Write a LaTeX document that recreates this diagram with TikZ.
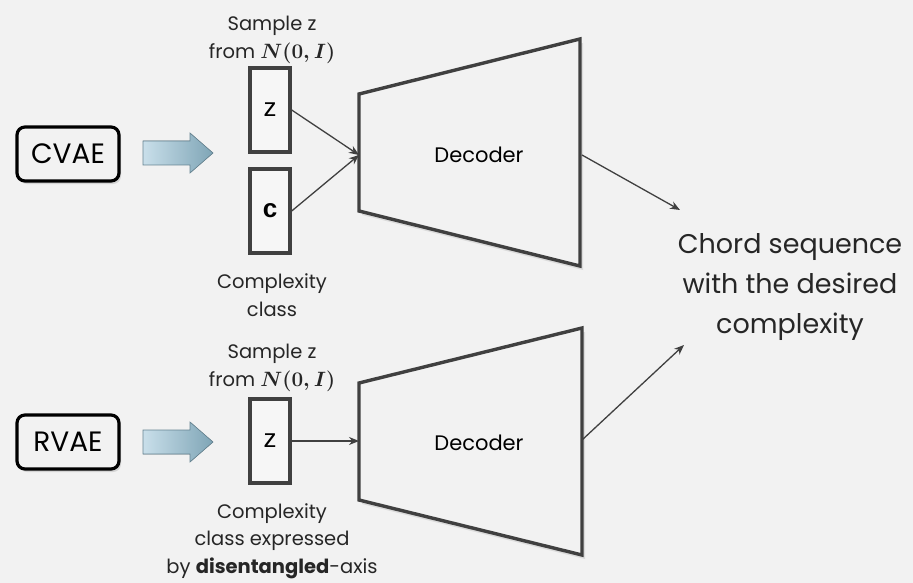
\documentclass[tikz,border=0pt]{standalone}
\usepackage{amsmath}
\usepackage{fontspec}
\setmainfont{Poppins}
\newfontfamily\arialfont{Liberation Sans}
\usetikzlibrary{arrows.meta,shadows}
\definecolor{bg}{HTML}{F2F2F2}
\definecolor{edge}{HTML}{404040}
\definecolor{blueA}{HTML}{C9DFEA}
\definecolor{blueB}{HTML}{7FA5B6}
\tikzset{
  x=1pt,y=-1pt,
  vaebox/.style={draw=black,line width=3.2pt,rounded corners=8pt,fill=bg,minimum width=102pt,minimum height=54pt,font=\fontsize{28}{30}\selectfont,drop shadow={shadow xshift=2pt,shadow yshift=-3pt,opacity=0.25}},
  latent/.style={draw=edge,line width=3.4pt,fill=bg!70!white,minimum width=40pt,minimum height=84pt,font=\arialfont\fontsize{26}{28}\selectfont,drop shadow={shadow xshift=2pt,shadow yshift=-2pt,opacity=0.2}},
  decoder/.style={draw=edge,line width=3.4pt,fill=bg,line join=miter},
  conn/.style={draw=edge,line width=1.3pt,-{Stealth[length=10pt,width=8pt]}},
  lbl/.style={font=\fontsize{19.5}{27.5}\selectfont,align=center,text=black!85},
  blockarrow/.style={draw=blueB!80!black,line width=0.6pt,left color=blueA,right color=blueB}
}
\begin{document}
\begin{tikzpicture}
\fill[bg] (0,0) rectangle (913,583);
\useasboundingbox (0,0) rectangle (913,583);

% ---------- top (CVAE) ----------
\node[vaebox] (cvae) at (68,154) {CVAE};
\filldraw[blockarrow] (143,141) -- (190,141) -- (190,133) -- (213,153) -- (190,173) -- (190,165) -- (143,165) -- cycle;
\node[lbl] (sampleA) at (272,40) {Sample z\\from $\boldsymbol{N(0,I)}$};
\node[latent] (zA) at (270,110) {z};
\node[latent] (cA) at (270,211) {\bfseries c};
\node[lbl] (complA) at (272,295) {Complexity\\class};
\filldraw[decoder,drop shadow={shadow xshift=3pt,shadow yshift=-4pt,opacity=0.2}] (359,94) -- (580,39) -- (580,266) -- (359,211) -- cycle;
\coordinate (decAin) at (359,155);
\coordinate (decAout) at (582,155);
\node[font=\fontsize{21}{24}\selectfont] (decA) at (479,155) {Decoder};
\draw[conn] (zA.east) -- (decAin);
\draw[conn] (cA.east) -- (decAin);

% ---------- output ----------
\node[font=\fontsize{27}{40}\selectfont,align=center,text=black!85] (out) at (790,287) {Chord sequence\\with the desired\\complexity};
\coordinate (outA) at (680,210);
\coordinate (outB) at (684,345);
\draw[conn] (decAout) -- (outA);

% ---------- bottom (RVAE) ----------
\node[vaebox] (rvae) at (68,442) {RVAE};
\filldraw[blockarrow] (143,430) -- (190,430) -- (190,422) -- (213,442) -- (190,462) -- (190,454) -- (143,454) -- cycle;
\node[lbl] (sampleB) at (272,368) {Sample z\\from $\boldsymbol{N(0,I)}$};
\node[latent] (zB) at (270,441) {z};
\node[lbl] (complB) at (272,541) {Complexity\\class expressed\\by \textbf{disentangled}-axis};
\filldraw[decoder,drop shadow={shadow xshift=3pt,shadow yshift=-4pt,opacity=0.2}] (359,383) -- (582,328) -- (582,555) -- (359,500) -- cycle;
\coordinate (decBin) at (359,441);
\coordinate (decBout) at (582,440);
\node[font=\fontsize{21}{24}\selectfont] (decB) at (479,443) {Decoder};
\draw[conn] (zB.east) -- (decBin);
\draw[conn] (decBout) -- (outB);
\end{tikzpicture}
\end{document}
